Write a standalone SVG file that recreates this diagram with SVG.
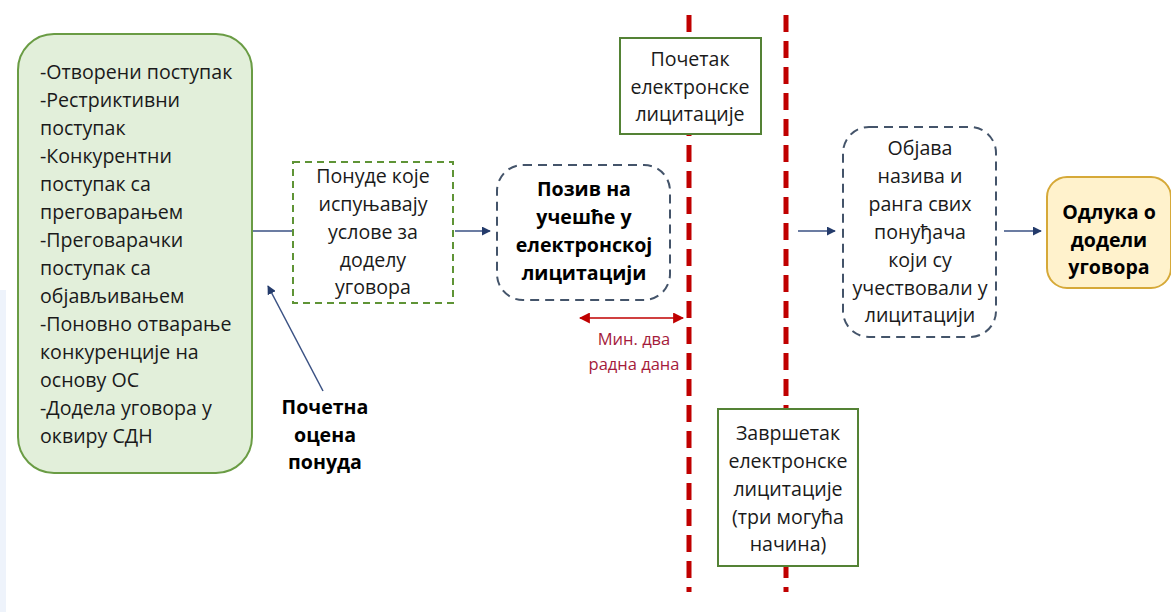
<svg xmlns="http://www.w3.org/2000/svg" width="1171" height="612" viewBox="0 0 1171 612">
<style>
text{font-family:"Open Sans","Noto Sans","Liberation Sans",sans-serif;font-size:19.6px;fill:#1a1a1a}
.c{text-anchor:middle}
.b{font-weight:bold;fill:#000}
.red{fill:#a51b3b;font-size:16.5px}
.con{stroke:#3a5183;stroke-width:1.5;fill:none}
.vl{stroke:#c00000;stroke-width:5;stroke-dasharray:17 9;fill:none}
</style>
<defs>
<marker id="ah" viewBox="0 0 10 10" refX="9" refY="5" markerWidth="9" markerHeight="9" markerUnits="userSpaceOnUse" orient="auto"><path d="M0,0 L10,5 L0,10 z" fill="#243b6b"/></marker>
<marker id="rh" viewBox="0 0 10 10" refX="9" refY="5" markerWidth="11" markerHeight="11" markerUnits="userSpaceOnUse" orient="auto-start-reverse"><path d="M0,0 L10,5 L0,10 z" fill="#c00000"/></marker>
</defs>
<rect width="1171" height="612" fill="#fff"/>
<rect x="0" y="290" width="6" height="322" fill="#eef3fb"/>

<g id="lines">
<line class="vl" x1="689" y1="15" x2="689" y2="592"/>
<line class="vl" x1="786" y1="15" x2="786" y2="592"/>
</g>

<g id="connectors">
<line class="con" x1="252" y1="231" x2="293" y2="231"/>
<line class="con" x1="455" y1="231" x2="490" y2="231" marker-end="url(#ah)"/>
<line class="con" x1="798" y1="231" x2="835" y2="231" marker-end="url(#ah)"/>
<line class="con" x1="1004" y1="231" x2="1041" y2="231" marker-end="url(#ah)"/>
<line class="con" x1="323" y1="391" x2="268" y2="286" marker-end="url(#ah)"/>
<line x1="580" y1="318" x2="683" y2="318" stroke="#c00000" stroke-width="1.5" marker-start="url(#rh)" marker-end="url(#rh)"/>
</g>

<g id="procedures">
<rect x="18" y="34" width="234" height="439" rx="36" fill="#e2efda" stroke="#6a9c44" stroke-width="2"/>
<text x="40" y="79">-Отворени поступак</text>
<text x="40" y="107">-Рестриктивни</text>
<text x="40" y="135">поступак</text>
<text x="40" y="163">-Конкурентни</text>
<text x="40" y="191">поступак са</text>
<text x="40" y="219">преговарањем</text>
<text x="40" y="247">-Преговарачки</text>
<text x="40" y="275">поступак са</text>
<text x="40" y="303">објављивањем</text>
<text x="40" y="331">-Поновно отварање</text>
<text x="40" y="359">конкуренције на</text>
<text x="40" y="387">основу ОС</text>
<text x="40" y="415">-Додела уговора у</text>
<text x="40" y="443">оквиру СДН</text>
</g>

<g id="offers">
<rect x="293" y="162" width="160" height="141" fill="#fff" stroke="#5f9436" stroke-width="2" stroke-dasharray="7 5"/>
<text class="c" x="373" y="183">Понуде које</text>
<text class="c" x="373" y="211">испуњавају</text>
<text class="c" x="373" y="239">услове за</text>
<text class="c" x="373" y="267">доделу</text>
<text class="c" x="373" y="294">уговора</text>
</g>

<g id="initial-eval">
<text class="c b" x="325" y="414">Почетна</text>
<text class="c b" x="325" y="442">оцена</text>
<text class="c b" x="325" y="469">понуда</text>
</g>

<g id="invitation">
<rect x="497" y="165" width="173" height="135" rx="26" fill="#fff" stroke="#44546a" stroke-width="2" stroke-dasharray="9 6"/>
<text class="c b" x="584" y="196">Позив на</text>
<text class="c b" x="584" y="224">учешће у</text>
<text class="c b" x="584" y="252">електронској</text>
<text class="c b" x="584" y="280">лицитацији</text>
</g>

<g id="min-days">
<text class="c red" x="634" y="345">Мин. два</text>
<text class="c red" x="634" y="370">радна дана</text>
</g>

<g id="start-auction">
<rect x="620" y="38" width="141" height="96" fill="#fff" stroke="#548235" stroke-width="2"/>
<text class="c" x="690" y="66">Почетак</text>
<text class="c" x="690" y="94">електронске</text>
<text class="c" x="690" y="121">лицитације</text>
</g>

<g id="end-auction">
<rect x="718" y="409" width="140" height="157" fill="#fff" stroke="#548235" stroke-width="2"/>
<text class="c" x="788" y="440">Завршетак</text>
<text class="c" x="788" y="468">електронске</text>
<text class="c" x="788" y="496">лицитације</text>
<text class="c" x="788" y="524">(три могућа</text>
<text class="c" x="788" y="551">начина)</text>
</g>

<g id="publish">
<rect x="843" y="127" width="153" height="210" rx="26" fill="#fff" stroke="#44546a" stroke-width="2" stroke-dasharray="9 6"/>
<text class="c" x="920" y="155">Објава</text>
<text class="c" x="920" y="183">назива и</text>
<text class="c" x="920" y="211">ранга свих</text>
<text class="c" x="920" y="239">понуђача</text>
<text class="c" x="920" y="267">који су</text>
<text class="c" x="920" y="295">учествовали у</text>
<text class="c" x="920" y="322">лицитацији</text>
</g>

<g id="decision">
<rect x="1047" y="177" width="124" height="111" rx="20" fill="#fff2cc" stroke="#d6a938" stroke-width="2"/>
<text class="c b" x="1109" y="219">Одлука о</text>
<text class="c b" x="1109" y="247">додели</text>
<text class="c b" x="1109" y="274">уговора</text>
</g>
</svg>
